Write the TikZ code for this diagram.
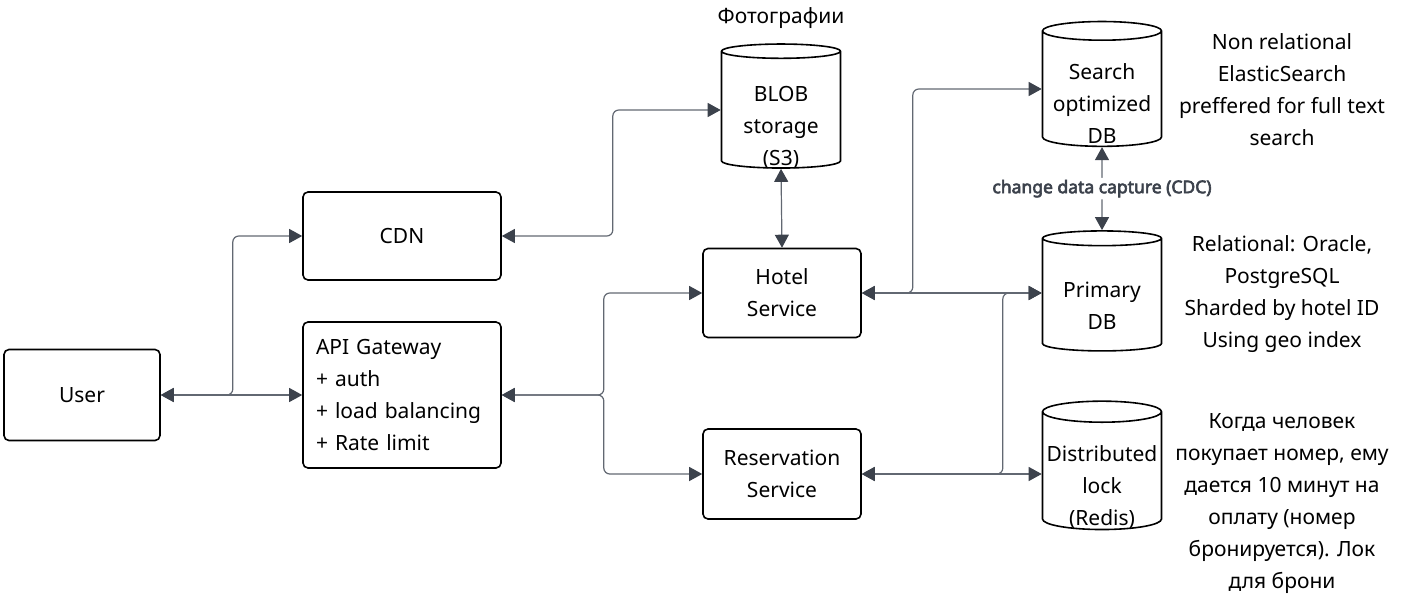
\documentclass[tikz,border=0pt]{standalone}
\usepackage{fontspec}
\setmainfont{Noto Sans}
\newfontfamily\boldlabel{Noto Sans}[FakeBold=3.5]
\usetikzlibrary{shapes.geometric,arrows.meta}
\definecolor{linegray}{RGB}{98,104,114}
\definecolor{tipgray}{RGB}{60,66,76}
\newcommand{\lowered}[2][16pt]{\raisebox{-#1}[\height][\depth]{\begin{tabular}{@{}c@{}}#2\end{tabular}}}

\begin{document}
\begin{tikzpicture}[x=1pt,y=-1pt,
    every node/.style={font=\fontsize{21}{32}\selectfont},
    box/.style={draw=black, line width=1.6pt, rounded corners=5pt, minimum width=157pt, minimum height=90pt, align=center},
    store/.style={draw=black, line width=1.6pt, cylinder, shape border rotate=90, aspect=0.19, minimum width=119pt, minimum height=122pt, align=center, inner sep=0pt},
    note/.style={align=center},
    link/.style={draw=linegray, line width=1.2pt, rounded corners=6pt, {Triangle[length=13pt,width=14pt,color=tipgray]}-{Triangle[length=13pt,width=14pt,color=tipgray]}}]
    \useasboundingbox (0,0) rectangle (1407,605);

    \node[box, minimum width=156pt, minimum height=91pt] (user) at (82,395) {User};
    \node[box, minimum width=198pt, minimum height=88pt] (cdn) at (402,236) {CDN};
    \node[box, minimum width=198pt, minimum height=146pt, text width=172pt, inner xsep=13pt, align=left] (gateway) at (402,395) {API Gateway\\+ auth\\+ load balancing\\+ Rate limit};
    \node[box, minimum width=158pt, minimum height=89pt] (hotel) at (782,293) {Hotel\\Service};
    \node[box, minimum width=158pt, minimum height=90pt] (reservation) at (782,474) {Reservation\\Service};

    \node (phototitle) at (781,18) {Фотографии};
    \node[store, minimum height=124pt] (blob) at (781,110) {\lowered[17pt]{BLOB\\storage\\(S3)}};
    \node[store] (search) at (1102,89) {\lowered{Search\\optimized\\DB}};
    \node[store, minimum height=120pt] (primary) at (1102,295) {\lowered[12pt]{Primary\\DB}};
    \node[store, minimum height=118pt] (lock) at (1102,471) {\lowered{Distributed\\lock\\(Redis)}};

    \node[note] (searchnote) at (1282,90) {Non relational\\ElasticSearch\\preffered for full text\\search};
    \node[note] (primarynote) at (1282,294) {Relational: Oracle,\\PostgreSQL\\Sharded by hotel ID\\Using geo index};
    \node[note] (locknote) at (1282,504) {Когда человек\\покупает номер, ему\\дается 10 минут на\\оплату (номер\\бронируется). Лок\\для брони};

    \coordinate (primaryin) at (hotel.east -| primary.west);

    \draw[link] (user.east) -- ++(72,0) |- (cdn.west);
    \draw[link] (user.east) -- (gateway.west);
    \draw[link] (cdn.east) -- ++(111,0) |- (blob.west);
    \draw[link] (gateway.east) -- ++(102,0) |- (hotel.west);
    \draw[link] (gateway.east) -- ++(102,0) |- (reservation.west);
    \draw[link] (blob.south) -- (hotel.north);
    \draw[link] (hotel.east) -- ++(51,0) |- (search.west);
    \draw[link] (hotel.east) -- (primaryin);
    \draw[link] (reservation.east) -- ++(141,0) |- (primaryin);
    \draw[link] (reservation.east) -- (reservation.east -| lock.west);
    \draw[link] (primary.north) -- (search.south) node[midway, fill=white, text=tipgray, inner sep=2pt, font=\boldlabel\fontsize{17.5}{18}\selectfont] {change data capture (CDC)};
\end{tikzpicture}
\end{document}
